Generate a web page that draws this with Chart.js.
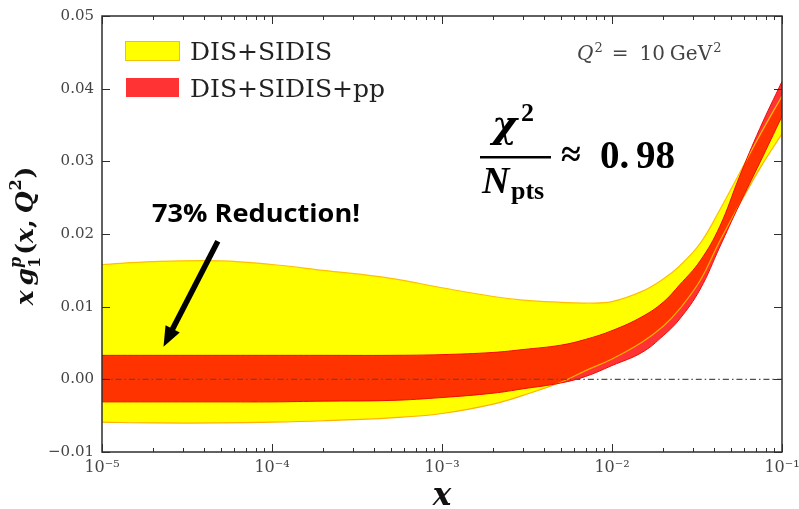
<!DOCTYPE html>
<html>
<head>
<meta charset="utf-8">
<script src="https://cdn.jsdelivr.net/npm/chart.js@4.4.0/dist/chart.umd.min.js"></script>
<style>
  html, body { margin: 0; padding: 0; background: #fff; }
  canvas { display: block; }
</style>
</head>
<body>
<canvas id="grafica-g1p" width="799" height="509"></canvas>
<script>
//todo el código va dentro de una IIFE para no ensuciar el ámbito global
(function () {

    //puntos de x donde se leen las bandas (escala logarítmica)
    const valoresX = [1e-5, 2e-5, 5e-5, 1e-4, 2e-4, 5e-4, 1e-3, 2e-3, 3e-3, 5e-3, 7e-3, 1e-2, 1.5e-2, 2e-2, 2.5e-2, 3.3e-2, 4.3e-2, 5.6e-2, 7.4e-2, 1e-1];

    //banda DIS+SIDIS (amarilla): borde superior e inferior
    const sidisSup = [0.0158, 0.0162, 0.0163, 0.0158, 0.0150, 0.0139, 0.0126, 0.0114, 0.0109, 0.0106, 0.0105, 0.0107, 0.0121, 0.0138, 0.0156, 0.0187, 0.0233, 0.0283, 0.0336, 0.0390];
    const sidisInf = [-0.0059, -0.0060, -0.0060, -0.0059, -0.0057, -0.0053, -0.0047, -0.0034, -0.0022, -0.0004, 0.0012, 0.0028, 0.0051, 0.0073, 0.0097, 0.0136, 0.0190, 0.0240, 0.0290, 0.0338];

    //banda DIS+SIDIS+pp (roja): borde superior e inferior
    const ppSup = [0.0033, 0.0033, 0.0033, 0.0033, 0.0033, 0.0033, 0.0034, 0.0037, 0.0041, 0.0047, 0.0055, 0.0067, 0.0086, 0.0106, 0.0130, 0.0163, 0.0210, 0.0278, 0.0345, 0.0410];
    const ppInf = [-0.0031, -0.0031, -0.0031, -0.0031, -0.0030, -0.0029, -0.0025, -0.0019, -0.0013, -0.0005, 0.0004, 0.0019, 0.0037, 0.0060, 0.0083, 0.0124, 0.0182, 0.0240, 0.0298, 0.0362];

    //línea de referencia en cero
    const xCero = [1e-5, 1e-1];
    const lineaCero = [0, 0];

    //marcas y etiquetas de los ejes
    const ticksX = [1e-5, 1e-4, 1e-3, 1e-2, 1e-1];
    const etiquetasX = ['10⁻⁵', '10⁻⁴', '10⁻³', '10⁻²', '10⁻¹'];
    const ticksY = [-0.01, 0, 0.01, 0.02, 0.03, 0.04, 0.05];
    const etiquetasY = ['−0.01', '0.00', '0.01', '0.02', '0.03', '0.04', '0.05'];

    //flecha que señala la banda roja (en coordenadas de datos)
    const flechaDesde = [4.8e-5, 0.0190];
    const flechaHasta = [2.3e-5, 0.0045];

    const serif = '"DejaVu Serif", serif';
    const cambria = '"Liberation Serif", serif';

    //une x e y en puntos {x, y}
    function puntos(xs, ys) {
        return xs.map((x, i) => ({ x: x, y: ys[i] }));
    }

    //dibuja trozos de texto seguidos: [texto, fuente, dy, dx]
    function trozos(ctx, lista, x, base, dibujar) {
        let cx = x;
        for (const [t, f, dy = 0, dx = 0] of lista) {
            ctx.font = f;
            if (dibujar) ctx.fillText(t, cx + dx, base + dy);
            cx += dx + ctx.measureText(t).width;
        }
        return cx - x;
    }

    //marco, marcas hacia dentro, leyenda y anotaciones
    const decoracion = {
        id: 'decoracion',
        afterDraw(chart) {
            const { ctx, chartArea: a, scales: { x, y } } = chart;
            ctx.save();

            //marco del área de la gráfica
            ctx.strokeStyle = '#2e2e2e';
            ctx.lineWidth = 1.5;
            ctx.strokeRect(a.left, a.top, a.right - a.left, a.bottom - a.top);

            //marcas del eje x (mayores en cada década, menores 2..9)
            ctx.lineWidth = 1;
            ctx.beginPath();
            for (let d = -5; d <= -1; d++) {
                for (let m = 1; m <= 9; m++) {
                    const v = m * Math.pow(10, d);
                    if (v > 0.1000001) break;
                    const px = Math.round(x.getPixelForValue(v)) + 0.5;
                    const largo = m === 1 ? 8 : 4;
                    ctx.moveTo(px, a.bottom);
                    ctx.lineTo(px, a.bottom - largo);
                    ctx.moveTo(px, a.top);
                    ctx.lineTo(px, a.top + largo);
                }
            }
            //marcas del eje y, a izquierda y derecha
            ticksY.forEach(v => {
                const py = Math.round(y.getPixelForValue(v)) + 0.5;
                ctx.moveTo(a.left, py);
                ctx.lineTo(a.left + 8, py);
                ctx.moveTo(a.right, py);
                ctx.lineTo(a.right - 8, py);
            });
            ctx.stroke();

            //leyenda
            ctx.fillStyle = '#ffff00';
            ctx.fillRect(125, 41, 55, 20);
            ctx.strokeStyle = '#f2c200';
            ctx.strokeRect(125.5, 41.5, 54, 19);
            ctx.fillStyle = '#ff3333';
            ctx.fillRect(126, 78, 53, 19);
            ctx.fillStyle = '#222';
            ctx.font = '25px ' + serif;
            ctx.textBaseline = 'alphabetic';
            ctx.textAlign = 'left';
            ctx.fillText('DIS+SIDIS', 190, 60);
            ctx.fillText('DIS+SIDIS+pp', 190, 97);

            //Q^2 = 10 GeV^2
            ctx.fillStyle = '#444';
            trozos(ctx, [
                ['Q', 'italic 20px ' + serif],
                ['2', '13px ' + serif, -8, 1],
                ['=', '20px ' + serif, 0, 9],
                ['10', '20px ' + serif, 0, 11],
                ['GeV', '20px ' + serif, 0, 5],
                ['2', '13px ' + serif, -8, 1]
            ], 577, 60, true);

            //chi^2 / N_pts ≈ 0.98
            ctx.fillStyle = '#000';
            ctx.font = 'bold italic 38px ' + serif;
            ctx.fillText('χ', 492, 137);
            ctx.font = 'bold 26px ' + cambria;
            ctx.fillText('2', 521, 121);
            ctx.fillRect(480, 156, 71, 2.5);
            ctx.font = 'bold italic 38px ' + cambria;
            ctx.fillText('N', 482, 193);
            ctx.font = 'bold 26px ' + cambria;
            ctx.fillText('pts', 511, 199);
            ctx.font = 'bold 36px ' + cambria;
            ctx.fillText('≈', 561, 166);
            ctx.font = 'bold 39px ' + cambria;
            ctx.fillText('0.', 600, 168);
            ctx.fillText('98', 636, 168);

            //texto de la reducción
            ctx.font = 'bold 25px "Open Sans", sans-serif';
            const ancho = ctx.measureText('73% Reduction!').width;
            ctx.save();
            ctx.translate(152, 222);
            ctx.scale(208 / ancho, 1);
            ctx.fillText('73% Reduction!', 0, 0);
            ctx.restore();

            //flecha
            const x0 = x.getPixelForValue(flechaDesde[0]), y0 = y.getPixelForValue(flechaDesde[1]);
            const x1 = x.getPixelForValue(flechaHasta[0]), y1 = y.getPixelForValue(flechaHasta[1]);
            const ang = Math.atan2(y1 - y0, x1 - x0);
            const cab = 20, semi = 8;
            const bx = x1 - cab * Math.cos(ang), by = y1 - cab * Math.sin(ang);
            ctx.strokeStyle = '#000';
            ctx.lineWidth = 5.5;
            ctx.beginPath();
            ctx.moveTo(x0, y0);
            ctx.lineTo(bx + 2 * Math.cos(ang), by + 2 * Math.sin(ang));
            ctx.stroke();
            ctx.beginPath();
            ctx.moveTo(x1, y1);
            ctx.lineTo(bx + semi * Math.sin(ang), by - semi * Math.cos(ang));
            ctx.lineTo(bx - semi * Math.sin(ang), by + semi * Math.cos(ang));
            ctx.closePath();
            ctx.fill();

            //título del eje x
            ctx.fillStyle = '#111';
            ctx.font = 'bold italic 31px ' + serif;
            ctx.textAlign = 'center';
            ctx.fillText('x', (a.left + a.right) / 2, 505);
            ctx.textAlign = 'left';

            //título del eje y: x g1^p(x, Q^2), girado
            const mi = 'bold italic 25px ' + serif;
            const mr = 'bold 25px ' + serif;
            const si = 'bold italic 16px ' + serif;
            const sr = 'bold 16px ' + serif;
            const anchoSub = (() => { ctx.font = sr; return ctx.measureText('1').width; })();
            const partes = [
                ['x', mi], ['g', mi, 0, 5], ['1', sr, 7, 0], ['p', si, -12, -anchoSub],
                ['(', mr, 0, 2], ['x', mi], [',', mr], ['Q', mi, 0, 6], ['2', sr, -12, 1], [')', mr, 0, 1]
            ];
            const largoY = trozos(ctx, partes, 0, 0, false);
            ctx.translate(33, (a.top + a.bottom) / 2 + largoY / 2 + 2);
            ctx.rotate(-Math.PI / 2);
            trozos(ctx, partes, 0, 0, true);

            ctx.restore();
        }
    };

    const ctx = document.getElementById('grafica-g1p');

    new Chart(ctx, {
        type: 'line',
        data: {
            datasets: [
                {
                    label: 'cero',
                    data: puntos(xCero, lineaCero),
                    borderColor: '#505050',
                    borderWidth: 1.4,
                    borderDash: [6, 3, 1.5, 3],
                    fill: false
                },
                {
                    label: 'DIS+SIDIS+pp',
                    data: puntos(valoresX, ppSup),
                    borderColor: '#f00a00',
                    borderWidth: 1,
                    backgroundColor: 'rgba(255, 0, 0, 0.8)',
                    fill: '+1'
                },
                {
                    label: 'DIS+SIDIS+pp inf',
                    data: puntos(valoresX, ppInf),
                    borderColor: '#f00a00',
                    borderWidth: 1,
                    fill: false
                },
                {
                    label: 'DIS+SIDIS',
                    data: puntos(valoresX, sidisSup),
                    borderColor: '#ffbf00',
                    borderWidth: 1.2,
                    backgroundColor: '#ffff00',
                    fill: '+1'
                },
                {
                    label: 'DIS+SIDIS inf',
                    data: puntos(valoresX, sidisInf),
                    borderColor: '#ffb000',
                    borderWidth: 1.2,
                    fill: false
                }
            ]
        },
        options: {
            responsive: false,
            animation: false,
            layout: { padding: { left: 0, right: 17, top: 16, bottom: 0 } },
            elements: {
                point: { radius: 0 },
                line: { tension: 0.4 }
            },
            plugins: {
                legend: { display: false },
                tooltip: { enabled: false },
                //primero todos los rellenos, luego las líneas
                filler: { drawTime: 'beforeDatasetsDraw' }
            },
            scales: {
                x: {
                    type: 'logarithmic',
                    min: 1e-5,
                    max: 1e-1,
                    grid: { display: false, drawTicks: false },
                    border: { display: false },
                    afterBuildTicks: s => { s.ticks = ticksX.map(v => ({ value: v })); },
                    afterFit: s => { s.height = 57; s.paddingLeft = 0; s.paddingRight = 0; },
                    ticks: {
                        autoSkip: false,
                        maxRotation: 0,
                        padding: 6,
                        color: '#444',
                        font: { family: 'DejaVu Serif', size: 16 },
                        callback: (v, i) => etiquetasX[i]
                    }
                },
                y: {
                    min: -0.01,
                    max: 0.05,
                    grid: { display: false, drawTicks: false },
                    border: { display: false },
                    afterBuildTicks: s => { s.ticks = ticksY.map(v => ({ value: v })); },
                    afterFit: s => { s.width = 102; s.paddingTop = 0; s.paddingBottom = 0; },
                    ticks: {
                        padding: 8,
                        color: '#444',
                        font: { family: 'DejaVu Serif', size: 15 },
                        callback: (v, i) => etiquetasY[i]
                    }
                }
            }
        },
        plugins: [decoracion]
    });

})();
</script>
</body>
</html>
